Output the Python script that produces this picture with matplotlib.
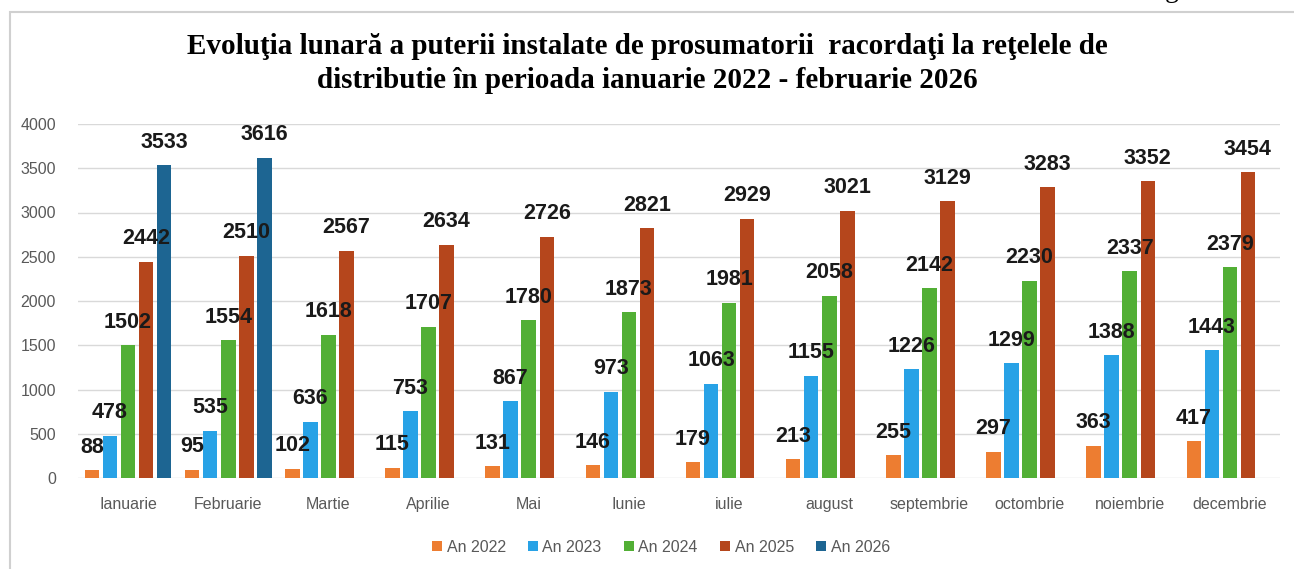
import matplotlib.pyplot as plt
import numpy as np
from matplotlib.patches import Rectangle

luni = ['Ianuarie', 'Februarie', 'Martie', 'Aprilie', 'Mai', 'Iunie', 'iulie',
        'august', 'septembrie', 'octombrie', 'noiembrie', 'decembrie']
an2022 = [88, 95, 102, 115, 131, 146, 179, 213, 255, 297, 363, 417]
an2023 = [478, 535, 636, 753, 867, 973, 1063, 1155, 1226, 1299, 1388, 1443]
an2024 = [1502, 1554, 1618, 1707, 1780, 1873, 1981, 2058, 2142, 2230, 2337, 2379]
an2025 = [2442, 2510, 2567, 2634, 2726, 2821, 2929, 3021, 3129, 3283, 3352, 3454]
an2026 = [3533, 3616]

serii = [('An 2022', an2022, '#ED7D31'),
         ('An 2023', an2023, '#28A2E6'),
         ('An 2024', an2024, '#52AF35'),
         ('An 2025', an2025, '#B5461C'),
         ('An 2026', an2026, '#1D6592')]

W, H = 1294, 569
fig = plt.figure(figsize=(W / 100, H / 100), dpi=100)
ax = fig.add_axes([78 / W, 1 - 478 / H, 1202 / W, 354 / H])

# chenarul din captura
fig.patches.append(Rectangle((10 / W, -0.1), 1.2, 1 - 12 / H + 0.1, transform=fig.transFigure,
                             fill=False, edgecolor='#D0D0D0', linewidth=1.5))
# litera taiata din textul de deasupra
fig.text(1165 / W, 1 + 3 / H, 'g', fontsize=20, family='Liberation Serif',
         ha='left', va='baseline')

x = np.arange(len(luni))
latime = 0.145
pas = 0.18
for i, (nume, vals, col) in enumerate(serii):
    xs = x[:len(vals)] + (i - 2) * pas
    bars = ax.bar(xs, vals, width=latime, color=col, label=nume, zorder=3)
    for b, v in zip(bars, vals):
        ax.annotate(str(v), (b.get_x() + b.get_width() / 2, v), xytext=(0, 9),
                    textcoords='offset points', ha='center', va='bottom',
                    fontsize=15.5, fontweight='bold', family='Liberation Sans',
                    color='#1a1a1a', zorder=5)

ax.set_xlim(-0.5, 11.5)
ax.set_ylim(0, 4000)
ax.set_yticks(range(0, 4001, 500))
ax.set_xticks(x)
ax.set_xticklabels(luni)
ax.grid(axis='y', color='#D9D9D9', linewidth=1, zorder=0)
for s in ax.spines.values():
    s.set_visible(False)
ax.tick_params(axis='both', length=0, colors='#595959', labelsize=11.5)
ax.tick_params(axis='x', pad=14)
ax.tick_params(axis='y', pad=16)
for t in ax.get_xticklabels() + ax.get_yticklabels():
    t.set_family('Liberation Sans')

fig.text(0.5, 1 - 46 / H,
         'Evoluţia lunară a puterii instalate de prosumatorii  racordaţi la reţelele de',
         ha='center', va='center', fontsize=21, fontweight='bold', family='Liberation Serif')
fig.text(0.5, 1 - 81 / H,
         'distributie în perioada ianuarie 2022 - februarie 2026',
         ha='center', va='center', fontsize=21, fontweight='bold', family='Liberation Serif')

leg = fig.legend(loc='center', bbox_to_anchor=(661 / W, 1 - 547 / H), ncol=5, frameon=False,
                 handlelength=0.6, handleheight=0.6, handletextpad=0.3, columnspacing=1.4,
                 prop={'family': 'Liberation Sans', 'size': 11.5})
for t in leg.get_texts():
    t.set_color('#595959')

fig.savefig('out.png', dpi=100)
